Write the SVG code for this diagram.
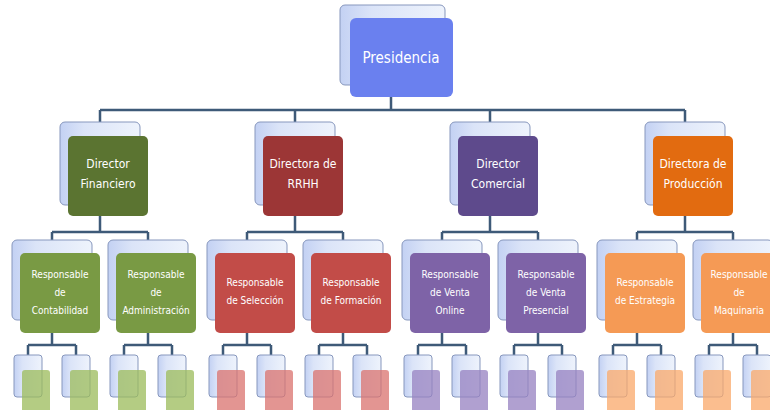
<svg xmlns="http://www.w3.org/2000/svg" width="770" height="410" viewBox="0 0 770 410">
<defs>
<linearGradient id="bk" x1="0" y1="0" x2="1" y2="0">
<stop offset="0" stop-color="#c3d1f3"/>
<stop offset="0.3" stop-color="#dbe4f8"/>
<stop offset="1" stop-color="#eef3fc"/>
</linearGradient>
<style>
.bk{fill:url(#bk);stroke:#8797bd;stroke-width:1}
.t{font-family:"DejaVu Sans Condensed","Liberation Sans Narrow","Liberation Sans",sans-serif;font-stretch:condensed;fill:#ffffff;text-anchor:middle}
.t0{font-size:15px}
.t1{font-size:12px}
.t2{font-size:10px}
.c{fill:none;stroke:#3e5a78;stroke-width:2.5}
.g1{fill:#5b7431}.g2{fill:#799a44}.g3{fill:#9bbb59;opacity:.75}
.r1{fill:#9c3636}.r2{fill:#c24c48}.r3{fill:#d9726e;opacity:.75}
.p1{fill:#5e4a8c}.p2{fill:#7e63a7}.p3{fill:#9580c0;opacity:.75}
.o1{fill:#e26b10}.o2{fill:#f59a55}.o3{fill:#f9a86a;opacity:.75}
.top{fill:#6a80ef}
</style>
</defs>
<rect width="770" height="410" fill="#ffffff"/>
<g id="connectors">
<path class="c" d="M391 97V110M100 110H685M100 110V122M295 110V122M490 110V122M685 110V122"/>
<path class="c" d="M100 216V232M52 232H148M52 232V240M148 232V240"/>
<path class="c" d="M295 216V232M247 232H343M247 232V240M343 232V240"/>
<path class="c" d="M490 216V232M442 232H538M442 232V240M538 232V240"/>
<path class="c" d="M685 216V232M637 232H733M637 232V240M733 232V240"/>
<path class="c" d="M52 333V345M28 345H76M28 345V355M76 345V355"/>
<path class="c" d="M148 333V345M124 345H172M124 345V355M172 345V355"/>
<path class="c" d="M247 333V345M223 345H271M223 345V355M271 345V355"/>
<path class="c" d="M343 333V345M319 345H367M319 345V355M367 345V355"/>
<path class="c" d="M442 333V345M418 345H466M418 345V355M466 345V355"/>
<path class="c" d="M538 333V345M514 345H562M514 345V355M562 345V355"/>
<path class="c" d="M637 333V345M613 345H661M613 345V355M661 345V355"/>
<path class="c" d="M733 333V345M709 345H757M709 345V355M757 345V355"/>
</g>
<g id="presidencia">
<rect class="bk" x="340" y="5" width="105" height="80" rx="5"/>
<rect class="top" x="350" y="18" width="103" height="79" rx="6"/>
<text class="t t0" x="401" y="63">Presidencia</text>
</g>
<g id="dir-financiero">
<rect class="bk" x="60" y="122" width="80" height="83" rx="5"/>
<rect class="g1" x="68" y="136" width="80" height="80" rx="5"/>
<text class="t t1" x="108" y="168">Director</text>
<text class="t t1" x="108" y="188">Financiero</text>
</g>
<g id="dir-rrhh">
<rect class="bk" x="255" y="122" width="80" height="83" rx="5"/>
<rect class="r1" x="263" y="136" width="80" height="80" rx="5"/>
<text class="t t1" x="303" y="168">Directora de</text>
<text class="t t1" x="303" y="188">RRHH</text>
</g>
<g id="dir-comercial">
<rect class="bk" x="450" y="122" width="80" height="83" rx="5"/>
<rect class="p1" x="458" y="136" width="80" height="80" rx="5"/>
<text class="t t1" x="498" y="168">Director</text>
<text class="t t1" x="498" y="188">Comercial</text>
</g>
<g id="dir-produccion">
<rect class="bk" x="645" y="122" width="80" height="83" rx="5"/>
<rect class="o1" x="653" y="136" width="80" height="80" rx="5"/>
<text class="t t1" x="693" y="168">Directora de</text>
<text class="t t1" x="693" y="188">Producción</text>
</g>
<g id="resp-contabilidad">
<rect class="bk" x="12" y="240" width="80" height="80" rx="5"/>
<rect class="g2" x="20" y="253" width="80" height="80" rx="5"/>
<text class="t t2" x="60" y="278">Responsable</text>
<text class="t t2" x="60" y="296">de</text>
<text class="t t2" x="60" y="314">Contabilidad</text>
</g>
<g id="resp-administracion">
<rect class="bk" x="108" y="240" width="80" height="80" rx="5"/>
<rect class="g2" x="116" y="253" width="80" height="80" rx="5"/>
<text class="t t2" x="156" y="278">Responsable</text>
<text class="t t2" x="156" y="296">de</text>
<text class="t t2" x="156" y="314">Administración</text>
</g>
<g id="resp-seleccion">
<rect class="bk" x="207" y="240" width="80" height="80" rx="5"/>
<rect class="r2" x="215" y="253" width="80" height="80" rx="5"/>
<text class="t t2" x="255" y="286">Responsable</text>
<text class="t t2" x="255" y="304">de Selección</text>
</g>
<g id="resp-formacion">
<rect class="bk" x="303" y="240" width="80" height="80" rx="5"/>
<rect class="r2" x="311" y="253" width="80" height="80" rx="5"/>
<text class="t t2" x="351" y="286">Responsable</text>
<text class="t t2" x="351" y="304">de Formación</text>
</g>
<g id="resp-venta-online">
<rect class="bk" x="402" y="240" width="80" height="80" rx="5"/>
<rect class="p2" x="410" y="253" width="80" height="80" rx="5"/>
<text class="t t2" x="450" y="278">Responsable</text>
<text class="t t2" x="450" y="296">de Venta</text>
<text class="t t2" x="450" y="314">Online</text>
</g>
<g id="resp-venta-presencial">
<rect class="bk" x="498" y="240" width="80" height="80" rx="5"/>
<rect class="p2" x="506" y="253" width="80" height="80" rx="5"/>
<text class="t t2" x="546" y="278">Responsable</text>
<text class="t t2" x="546" y="296">de Venta</text>
<text class="t t2" x="546" y="314">Presencial</text>
</g>
<g id="resp-estrategia">
<rect class="bk" x="597" y="240" width="80" height="80" rx="5"/>
<rect class="o2" x="605" y="253" width="80" height="80" rx="5"/>
<text class="t t2" x="645" y="286">Responsable</text>
<text class="t t2" x="645" y="304">de Estrategia</text>
</g>
<g id="resp-maquinaria">
<rect class="bk" x="693" y="240" width="80" height="80" rx="5"/>
<rect class="o2" x="701" y="253" width="80" height="80" rx="5"/>
<text class="t t2" x="739" y="278">Responsable</text>
<text class="t t2" x="739" y="296">de</text>
<text class="t t2" x="739" y="314">Maquinaria</text>
</g>
<g id="sub-nodes">
<g id="n3-1"><rect class="bk" x="14" y="355" width="28" height="42" rx="3"/><rect class="g3" x="22" y="370" width="28" height="42" rx="3"/></g>
<g id="n3-2"><rect class="bk" x="62" y="355" width="28" height="42" rx="3"/><rect class="g3" x="70" y="370" width="28" height="42" rx="3"/></g>
<g id="n3-3"><rect class="bk" x="110" y="355" width="28" height="42" rx="3"/><rect class="g3" x="118" y="370" width="28" height="42" rx="3"/></g>
<g id="n3-4"><rect class="bk" x="158" y="355" width="28" height="42" rx="3"/><rect class="g3" x="166" y="370" width="28" height="42" rx="3"/></g>
<g id="n3-5"><rect class="bk" x="209" y="355" width="28" height="42" rx="3"/><rect class="r3" x="217" y="370" width="28" height="42" rx="3"/></g>
<g id="n3-6"><rect class="bk" x="257" y="355" width="28" height="42" rx="3"/><rect class="r3" x="265" y="370" width="28" height="42" rx="3"/></g>
<g id="n3-7"><rect class="bk" x="305" y="355" width="28" height="42" rx="3"/><rect class="r3" x="313" y="370" width="28" height="42" rx="3"/></g>
<g id="n3-8"><rect class="bk" x="353" y="355" width="28" height="42" rx="3"/><rect class="r3" x="361" y="370" width="28" height="42" rx="3"/></g>
<g id="n3-9"><rect class="bk" x="404" y="355" width="28" height="42" rx="3"/><rect class="p3" x="412" y="370" width="28" height="42" rx="3"/></g>
<g id="n3-10"><rect class="bk" x="452" y="355" width="28" height="42" rx="3"/><rect class="p3" x="460" y="370" width="28" height="42" rx="3"/></g>
<g id="n3-11"><rect class="bk" x="500" y="355" width="28" height="42" rx="3"/><rect class="p3" x="508" y="370" width="28" height="42" rx="3"/></g>
<g id="n3-12"><rect class="bk" x="548" y="355" width="28" height="42" rx="3"/><rect class="p3" x="556" y="370" width="28" height="42" rx="3"/></g>
<g id="n3-13"><rect class="bk" x="599" y="355" width="28" height="42" rx="3"/><rect class="o3" x="607" y="370" width="28" height="42" rx="3"/></g>
<g id="n3-14"><rect class="bk" x="647" y="355" width="28" height="42" rx="3"/><rect class="o3" x="655" y="370" width="28" height="42" rx="3"/></g>
<g id="n3-15"><rect class="bk" x="695" y="355" width="28" height="42" rx="3"/><rect class="o3" x="703" y="370" width="28" height="42" rx="3"/></g>
<g id="n3-16"><rect class="bk" x="743" y="355" width="28" height="42" rx="3"/><rect class="o3" x="751" y="370" width="28" height="42" rx="3"/></g>
</g>
</svg>
